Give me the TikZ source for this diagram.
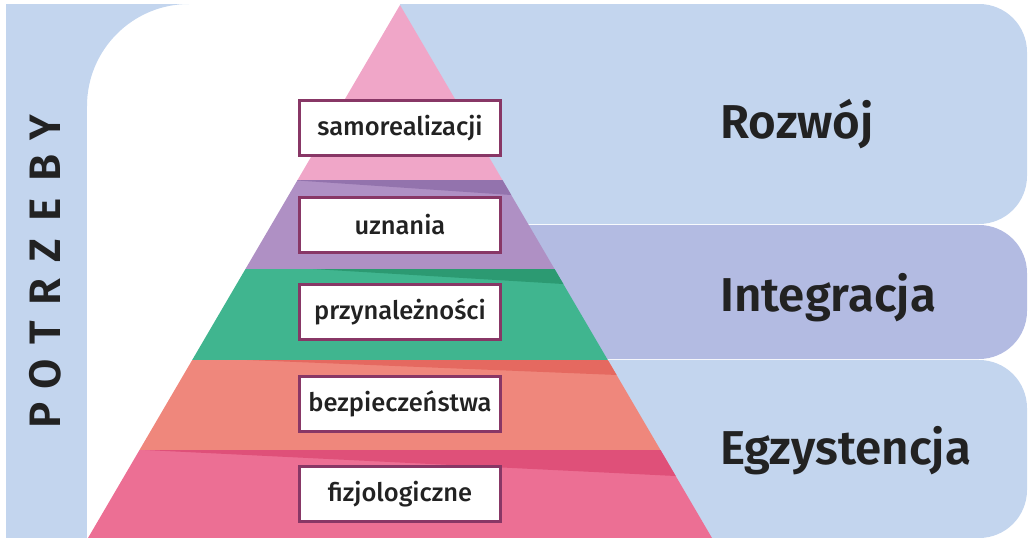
\documentclass[tikz,border=0pt]{standalone}
\usepackage{fontspec}
\setmainfont{Fira Sans}[UprightFont=* Medium, BoldFont=* SemiBold]
\definecolor{paleblue}{HTML}{C3D5EE}
\definecolor{lilacblue}{HTML}{B3BBE2}
\definecolor{toppink}{HTML}{F0A6C8}
\definecolor{lavender}{HTML}{AF90C4}
\definecolor{lavenderdark}{HTML}{9373AD}
\definecolor{mint}{HTML}{40B58F}
\definecolor{mintdark}{HTML}{2C9A72}
\definecolor{salmon}{HTML}{EF877C}
\definecolor{salmondark}{HTML}{E56960}
\definecolor{rose}{HTML}{EC6F94}
\definecolor{rosedark}{HTML}{DF5079}
\definecolor{boxborder}{HTML}{883766}
\definecolor{ink}{HTML}{222222}
\begin{document}
\begin{tikzpicture}[x=1pt,y=-1pt,
  levelbox/.style={draw=boxborder, line width=3pt, fill=white,
    minimum width=201pt, minimum height=55pt, inner sep=0pt,
    text=ink, font=\fontsize{25.5}{29}\selectfont},
  stagelabel/.style={anchor=base west, inner sep=0pt, text=ink,
    font=\bfseries\fontsize{47.5}{52}\selectfont},
  sideletter/.style={rotate=90, inner sep=0pt, text=ink,
    font=\bfseries\fontsize{44}{48}\selectfont}]
\useasboundingbox (0,0) rectangle (1031,538);

% left side bar with its concave top corner
\fill[paleblue] (6,4) rectangle (87,538);
\fill[paleblue] (87,4) -- (189,4) arc[start angle=90, end angle=180, radius=102pt] -- cycle;

% stage panels on the right
\fill[paleblue] (400,4) -- (979,4) arc[start angle=90, end angle=0, radius=48pt]
  -- (1027,176) arc[start angle=0, end angle=-90, radius=48pt] -- (400,224) -- cycle;
\fill[lilacblue] (400,225) -- (979,225) arc[start angle=90, end angle=0, radius=48pt]
  -- (1027,311) arc[start angle=0, end angle=-90, radius=48pt] -- (400,359) -- cycle;
\fill[paleblue] (400,360) -- (979,360) arc[start angle=90, end angle=0, radius=48pt]
  -- (1027,490) arc[start angle=0, end angle=-90, radius=48pt] -- (400,538) -- cycle;

% pyramid levels
\begin{scope}
  \clip (400,5) -- (712,538) -- (88,538) -- cycle;
  \fill[toppink] (0,0) rectangle (800,180);
  \fill[lavender] (0,180) rectangle (800,269);
  \fill[lavenderdark] (290,180) -- (800,180) -- (800,214.6) -- cycle;
  \fill[mint] (0,269) rectangle (800,360);
  \fill[mintdark] (313,269) -- (800,269) -- (800,298.2) -- cycle;
  \fill[salmon] (0,360) rectangle (800,450);
  \fill[salmondark] (247,360) -- (800,360) -- (800,382.4) -- cycle;
  \fill[rose] (0,450) rectangle (800,540);
  \fill[rosedark] (145,450) -- (800,450) -- (800,482.1) -- cycle;
\end{scope}

% level captions
\node[levelbox] (self)   at (400,128) {samorealizacji};
\node[levelbox] (esteem) at (400,225) {uznania};
\node[levelbox] (belong) at (400,312) {przynależności};
\node[levelbox] (safety) at (400,404) {bezpieczeństwa};
\node[levelbox] (body)   at (400,494) {fizjologiczne};

% stage names
\node[stagelabel] (growth)    at (720,138) {Rozwój};
\node[stagelabel] (relation)  at (720,311) {Integracja};
\node[stagelabel] (existence) at (720,464) {Egzystencja};

% vertical heading
\foreach \ch [count=\i from 0] in {P,O,T,R,Z,E,B,Y}
  \node[sideletter] (side\i) at (45,{415-41.1*\i}) {\ch};
\end{tikzpicture}
\end{document}
